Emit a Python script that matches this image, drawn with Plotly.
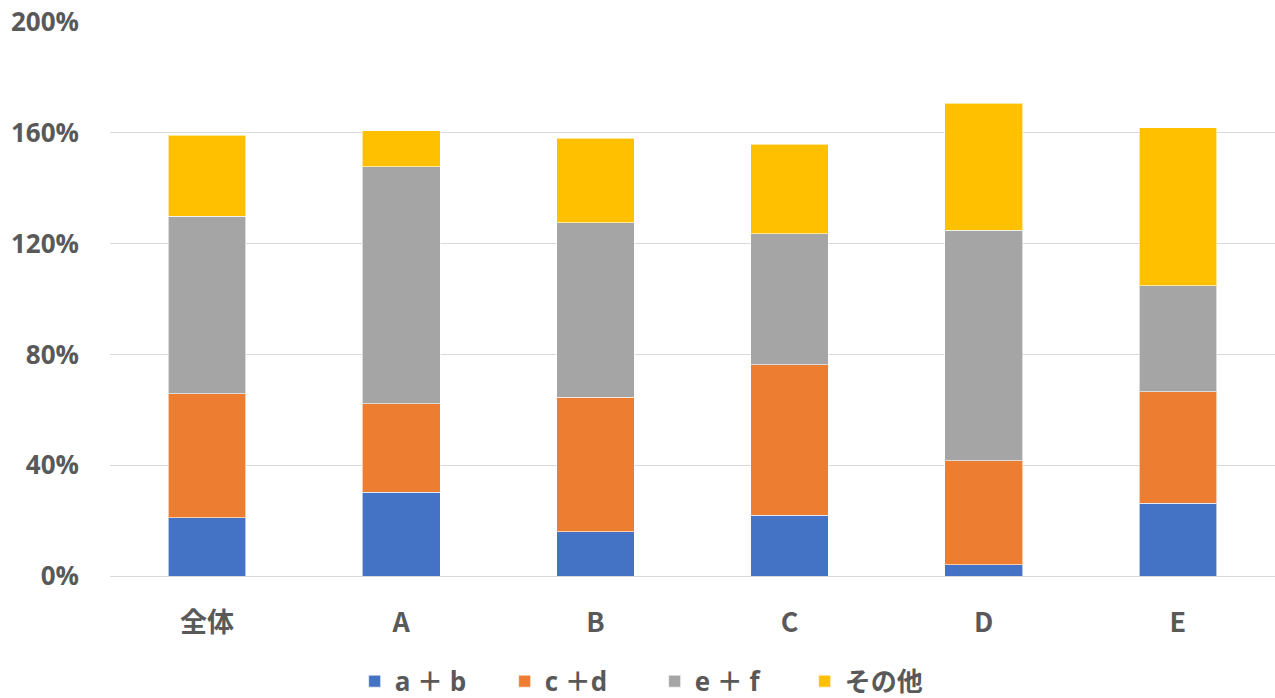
import plotly.graph_objects as go

# Categories and stacked shares (percent)
categories = ["全体", "A", "B", "C", "D", "E"]
series_names = ["a ＋ b", "c ＋d", "e ＋ f", "その他"]
ab_values = [21.1, 30.2, 15.9, 22.0, 4.0, 26.2]
cd_values = [44.7, 32.0, 48.7, 54.3, 37.6, 40.3]
ef_values = [64.1, 85.5, 62.9, 47.3, 83.3, 38.2]
other_values = [29.3, 13.0, 30.6, 32.3, 45.8, 57.1]
y_ticks = [0, 40, 80, 120, 160, 200]
y_tick_labels = [f"{v}%" for v in y_ticks]

colors = ["#4472C4", "#ED7D31", "#A5A5A5", "#FFC000"]
font_family = "Open Sans, Noto Sans CJK JP, sans-serif"
text_color = "#595959"

fig = go.Figure()
for name, vals, col in zip(series_names,
                           [ab_values, cd_values, ef_values, other_values],
                           colors):
    fig.add_trace(go.Bar(
        x=categories, y=vals, name=name,
        marker=dict(color=col, line=dict(color="rgba(255,255,255,0.6)", width=1)),
        width=0.4,
    ))

fig.update_layout(
    barmode="stack",
    width=1275, height=698,
    margin=dict(l=110, r=0, t=22, b=122, autoexpand=False),
    paper_bgcolor="white", plot_bgcolor="white",
    font=dict(family=font_family, color=text_color),
    showlegend=True,
    legend=dict(
        orientation="h", x=0.21, xanchor="left", y=-0.19, yanchor="middle",
        font=dict(size=26, family=font_family, color=text_color, weight="bold"),
        itemwidth=30, entrywidth=105, traceorder="normal",
    ),
    xaxis=dict(
        showgrid=False, showline=False, ticks="",
        tickfont=dict(size=27, family="Noto Sans CJK JP, sans-serif",
                      color=text_color, weight="bold"),
        ticklabelstandoff=28,
        range=[-0.5, 5.5],
    ),
    yaxis=dict(
        range=[0, 200], tickvals=y_ticks, ticktext=y_tick_labels,
        showgrid=True, gridcolor="#D9D9D9", gridwidth=1,
        zeroline=True, zerolinecolor="#D9D9D9", zerolinewidth=1,
        showline=False, ticks="", ticklabelstandoff=30,
        tickfont=dict(size=26, family=font_family, color=text_color, weight="bold"),
    ),
)

fig.write_html("out.html")
